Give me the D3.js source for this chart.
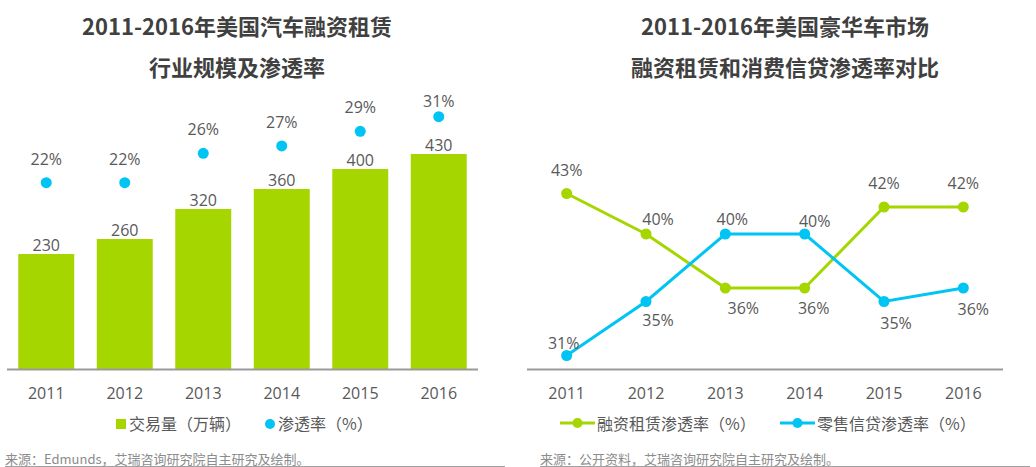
<!DOCTYPE html>
<html>
<head>
<meta charset="utf-8">
<script src="https://cdn.jsdelivr.net/npm/d3@7"></script>
<style>
  body { margin: 0; background: #fff; }
  svg { display: block; font-family: "Microsoft YaHei", "Noto Sans CJK SC", sans-serif; }
  .num { font-family: "Open Sans", "Noto Sans CJK SC", sans-serif; }
</style>
</head>
<body>
<svg id="chart" width="1036" height="467"></svg>
<script>
// data
const years = ['2011', '2012', '2013', '2014', '2015', '2016'];
const volume = [230, 260, 320, 360, 400, 430]; // 交易量（万辆）
const penetration = [0.22, 0.22, 0.26, 0.27, 0.29, 0.31]; // 渗透率
const leaseRate = [0.43, 0.40, 0.36, 0.36, 0.42, 0.42]; // 融资租赁渗透率
const retailRate = [0.31, 0.35, 0.40, 0.40, 0.35, 0.36]; // 零售信贷渗透率

const green = '#a6d600';
const blue = '#00c4f4';
const textCol = '#595959';
const axisCol = '#9a9a9a';

const svg = d3.select('#chart');
const pct = d3.format('.0%');

// titles
function title(cx, lines) {
    svg.append('g')
        .selectAll('text')
        .data(lines)
        .enter()
        .append('text')
        .attr('x', cx)
        .attr('y', function (d, i) { return 35 + i * 41; })
        .attr('text-anchor', 'middle')
        .attr('font-size', 22)
        .attr('font-weight', 'bold')
        .attr('fill', '#404040')
        .text(function (d) { return d; });
}
title(237, ['2011-2016年美国汽车融资租赁', '行业规模及渗透率']);
title(785, ['2011-2016年美国豪华车市场', '融资租赁和消费信贷渗透率对比']);

// ---------- left: bars + dots ----------
const baseY = 369;
const x1 = d3.scaleBand().domain(years).range([7, 478]).paddingInner(0.287).paddingOuter(0.1435);
const yBar = d3.scaleLinear().domain([0, 500]).range([baseY, baseY - 250]);
const yPen = d3.scaleLinear().domain([0, 0.35]).range([344, 87.3]);

const left = svg.append('g');

left.selectAll('.bar')
    .data(volume)
    .enter()
    .append('rect')
    .attr('class', 'bar')
    .attr('x', function (d, i) { return x1(years[i]); })
    .attr('y', function (d) { return yBar(d); })
    .attr('width', x1.bandwidth())
    .attr('height', function (d) { return baseY - yBar(d); })
    .attr('fill', green);

left.selectAll('.barlabel')
    .data(volume)
    .enter()
    .append('text')
    .attr('class', 'num')
    .attr('x', function (d, i) { return x1(years[i]) + x1.bandwidth() / 2; })
    .attr('y', function (d) { return yBar(d) - 3; })
    .attr('text-anchor', 'middle')
    .attr('font-size', 16)
    .attr('fill', textCol)
    .text(function (d) { return d; });

left.selectAll('.dot')
    .data(penetration)
    .enter()
    .append('circle')
    .attr('cx', function (d, i) { return x1(years[i]) + x1.bandwidth() / 2; })
    .attr('cy', function (d) { return yPen(d); })
    .attr('r', 5.5)
    .attr('fill', blue);

left.selectAll('.dotlabel')
    .data(penetration)
    .enter()
    .append('text')
    .attr('class', 'num')
    .attr('x', function (d, i) { return x1(years[i]) + x1.bandwidth() / 2; })
    .attr('y', function (d) { return Math.max(yPen(d) - 24, 101) + 6; }) // plot top clamps the label
    .attr('text-anchor', 'middle')
    .attr('font-size', 16)
    .attr('fill', textCol)
    .text(function (d) { return pct(d); });

function xAxis(g, scale, x0, x2) {
    g.append('line')
        .attr('x1', x0).attr('x2', x2)
        .attr('y1', baseY + 0.5).attr('y2', baseY + 0.5)
        .attr('stroke', axisCol).attr('stroke-width', 2);
    g.selectAll('.tick')
        .data(years)
        .enter()
        .append('text')
        .attr('class', 'num')
        .attr('x', function (d) { return scale(d) + scale.bandwidth() / 2; })
        .attr('y', 399)
        .attr('text-anchor', 'middle')
        .attr('font-size', 16)
        .attr('fill', textCol)
        .text(function (d) { return d; });
}
xAxis(left, x1, 7, 478);

// legend left
const lg1 = svg.append('g');
lg1.append('rect').attr('x', 116).attr('y', 419).attr('width', 10).attr('height', 10).attr('fill', green);
lg1.append('text').attr('x', 129).attr('y', 430).attr('font-size', 16).attr('fill', textCol).text('交易量（万辆）');
lg1.append('circle').attr('cx', 270).attr('cy', 424).attr('r', 5).attr('fill', blue);
lg1.append('text').attr('x', 278).attr('y', 430).attr('font-size', 16).attr('fill', textCol).text('渗透率（%）');

// ---------- right: two lines ----------
const x2 = d3.scaleBand().domain(years).range([527, 1003]);
const yRate = d3.scaleLinear().domain([0.30, 0.45]).range([baseY, baseY - 15 * 13.5]);
const cx2 = function (i) { return x2(years[i]) + x2.bandwidth() / 2; };

const series = [
    { name: '融资租赁渗透率（%）', values: leaseRate, color: green,
      // label offsets from each point (dx, dy to text centre)
      offs: [[0, -24], [12, -15], [18, 20], [9, 20], [0, -24], [0, -24]] },
    { name: '零售信贷渗透率（%）', values: retailRate, color: blue,
      offs: [[-3, -13], [12, 18], [7, -15], [10, -13], [12, 21], [10, 21]] }
];

const line = d3.line()
    .x(function (d, i) { return cx2(i); })
    .y(function (d) { return yRate(d); });

const right = svg.append('g');
xAxis(right, x2, 527, 1003);

series.forEach(function (s) {
    right.append('path')
        .attr('d', line(s.values))
        .attr('fill', 'none')
        .attr('stroke', s.color)
        .attr('stroke-width', 3);
    right.selectAll(null)
        .data(s.values)
        .enter()
        .append('circle')
        .attr('cx', function (d, i) { return cx2(i); })
        .attr('cy', function (d) { return yRate(d); })
        .attr('r', 5.5)
        .attr('fill', s.color);
});
series.forEach(function (s) {
    right.selectAll(null)
        .data(s.values)
        .enter()
        .append('text')
        .attr('class', 'num')
        .attr('x', function (d, i) { return cx2(i) + s.offs[i][0]; })
        .attr('y', function (d, i) { return yRate(d) + s.offs[i][1] + 6; })
        .attr('text-anchor', 'middle')
        .attr('font-size', 16)
        .attr('fill', textCol)
        .text(function (d) { return pct(d); });
});

// legend right
const lg2 = svg.append('g');
[[560, 597], [780, 817]].forEach(function (p, i) {
    lg2.append('line').attr('x1', p[0]).attr('x2', p[0] + 35).attr('y1', 423).attr('y2', 423)
        .attr('stroke', series[i].color).attr('stroke-width', 3);
    lg2.append('circle').attr('cx', p[0] + 17.5).attr('cy', 423).attr('r', 5).attr('fill', series[i].color);
    lg2.append('text').attr('x', p[1]).attr('y', 430).attr('font-size', 16).attr('fill', textCol).text(series[i].name);
});

// sources
[[5, 505, '来源：Edmunds，艾瑞咨询研究院自主研究及绘制。'], [540, 1030, '来源：公开资料，艾瑞咨询研究院自主研究及绘制。']].forEach(function (s) {
    svg.append('text').attr('x', s[0]).attr('y', 464).attr('font-size', 13).attr('fill', '#8c8c8c').text(s[2]);
    svg.append('line').attr('x1', s[0]).attr('x2', s[1]).attr('y1', 466.5).attr('y2', 466.5)
        .attr('stroke', '#a0a0a0').attr('stroke-width', 1);
});
</script>
</body>
</html>
